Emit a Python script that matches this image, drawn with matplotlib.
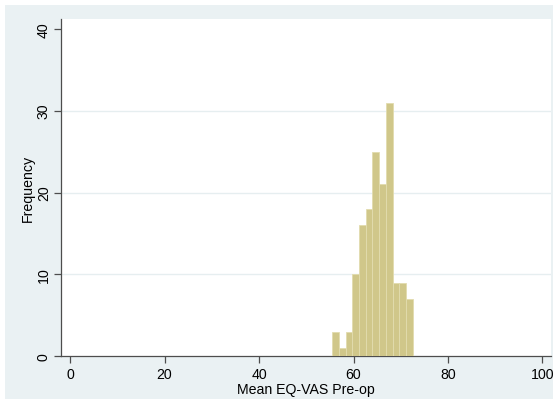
import numpy as np
import matplotlib
matplotlib.use('Agg')
import matplotlib.pyplot as plt
from matplotlib.patches import Rectangle

# histogram data
bin_start = 55.5
bin_width = 1.42
counts = [3, 1, 3, 10, 16, 18, 25, 21, 31, 9, 9, 7]
xticks = [0, 20, 40, 60, 80, 100]
yticks = [0, 10, 20, 30, 40]

plt.rcParams['font.family'] = ['Liberation Sans', 'DejaVu Sans']

bg = '#EAF1F3'
axcol = '#4d4d4d'

fig = plt.figure(figsize=(5.59, 4.10), dpi=100)
fig.patch.set_facecolor('white')
fig.patches.append(Rectangle((5/559, 10/410), 548/559, 394/410, transform=fig.transFigure,
                             facecolor=bg, edgecolor='none', zorder=-10))

ax = fig.add_axes([60.7/559, 1 - 357.3/410, (551 - 60.7)/559, (357.3 - 20)/410])
ax.set_zorder(1)
ax.set_facecolor('white')

edges = bin_start + bin_width * np.arange(len(counts) + 1)
ax.bar(edges[:-1], counts, width=bin_width, align='edge', color='#D0C78A',
       edgecolor='#E2DCAE', linewidth=0.6, zorder=3)

ax.set_xlim(-1.97, 101.8)
ax.set_ylim(0, 41.2)
ax.set_xticks(xticks)
ax.set_yticks(yticks)
ax.set_yticklabels([str(v) for v in yticks], rotation=90, va='center')
for v in yticks[1:-1]:
    ax.axhline(v, color='#E6EEF0', linewidth=1, zorder=1)

for s in ['top', 'right']:
    ax.spines[s].set_visible(False)
for s in ['left', 'bottom']:
    ax.spines[s].set_color(axcol)
    ax.spines[s].set_linewidth(0.9)
ax.tick_params(direction='out', length=5, width=0.9, color=axcol, labelsize=10.2,
               labelcolor='black', pad=2.5)
ax.tick_params(axis='y', pad=2)

ax.set_xlabel('Mean EQ-VAS Pre-op', fontsize=10.2)
ax.set_ylabel('Frequency', fontsize=10.2)
ax.xaxis.set_label_coords(0.5, -0.076)
ax.yaxis.set_label_coords(-0.052, 0.5)

fig.savefig('out.png', dpi=100, facecolor=fig.get_facecolor())
